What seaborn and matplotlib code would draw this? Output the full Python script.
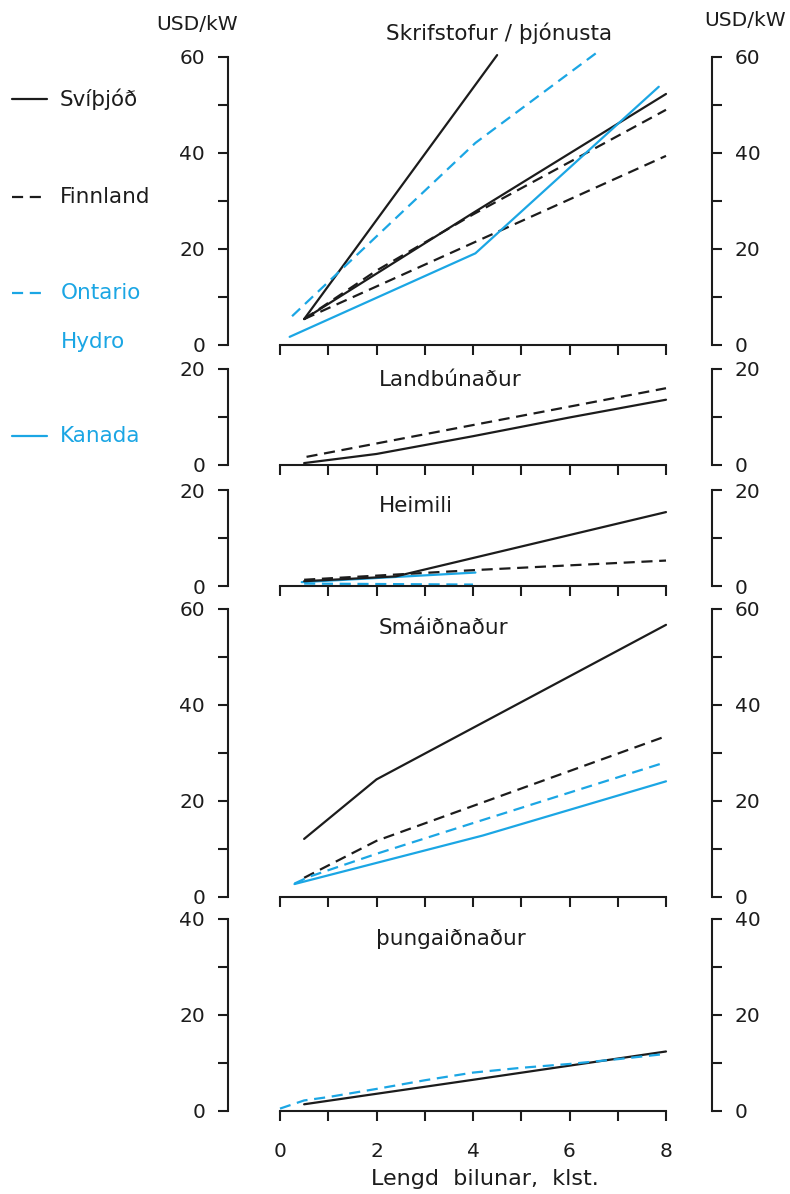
import matplotlib
matplotlib.use("Agg")
import matplotlib.pyplot as plt
import seaborn as sns
from matplotlib.lines import Line2D
from matplotlib.ticker import MultipleLocator

sns.set_style("ticks")
plt.rcParams["font.family"] = ["DejaVu Sans"]

BLACK = "#1c1c1c"
BLUE = "#1ba6e4"

# ---------------- data ----------------
panel_titles = ["Skrifstofur / þjónusta", "Landbúnaður", "Heimili", "Smáiðnaður", "þungaiðnaður"]
panel_ymax = [60, 20, 20, 60, 40]
x_ticks = [0, 2, 4, 6, 8]
legend_labels = ["Svíþjóð", "Finnland", "Ontario\nHydro", "Kanada"]

# Skrifstofur / þjónusta
skr_svi1_x = [0.5, 4.5];          skr_svi1_y = [5.4, 60.4]
skr_svi2_x = [0.5, 4, 8];         skr_svi2_y = [5.4, 27.5, 52.3]
skr_fin1_x = [0.5, 2, 4, 8];      skr_fin1_y = [5.4, 15.5, 27.2, 49.0]
skr_fin2_x = [0.5, 8];            skr_fin2_y = [5.4, 39.4]
skr_ont_x = [0.25, 4.05, 6.55];   skr_ont_y = [6.0, 42.1, 60.8]
skr_kan_x = [0.2, 4.05, 7.85];    skr_kan_y = [1.7, 19.1, 53.8]

# Landbúnaður
lan_svi_x = [0.5, 2, 4, 6, 8];    lan_svi_y = [0.4, 2.3, 6.0, 9.9, 13.6]
lan_fin_x = [0.55, 8];            lan_fin_y = [1.7, 16.0]

# Heimili
hei_svi_x = [0.5, 2.4, 8];        hei_svi_y = [1.0, 2.0, 15.4]
hei_fin_x = [0.5, 4, 8];          hei_fin_y = [1.3, 3.3, 5.3]
hei_kan_x = [0.45, 4.05];         hei_kan_y = [0.8, 2.8]
hei_ont_x = [0.5, 4.0];           hei_ont_y = [0.5, 0.3]

# Smáiðnaður
sma_svi_x = [0.5, 2, 8];          sma_svi_y = [12.1, 24.5, 56.7]
sma_fin_x = [0.5, 2, 8];          sma_fin_y = [4.0, 11.7, 33.5]
sma_ont_x = [0.3, 0.6, 2, 4, 8];  sma_ont_y = [2.8, 4.2, 9.0, 15.4, 28.1]
sma_kan_x = [0.3, 4.2, 8];        sma_kan_y = [2.7, 12.8, 24.1]

# þungaiðnaður
thu_svi_x = [0.5, 4, 8];          thu_svi_y = [1.4, 6.5, 12.4]
thu_ont_x = [0, 0.5, 1, 2, 3, 4, 5, 6, 7, 8]
thu_ont_y = [0.5, 2.2, 2.9, 4.6, 6.4, 8.0, 9.0, 9.8, 10.8, 11.9]

DASH = (0, (5, 3))
STYLE = {
    "svi": dict(color=BLACK, linestyle="-"),
    "fin": dict(color=BLACK, linestyle=DASH),
    "ont": dict(color=BLUE, linestyle=DASH),
    "kan": dict(color=BLUE, linestyle="-"),
}

panel_lines = [
    [("svi", skr_svi1_x, skr_svi1_y), ("svi", skr_svi2_x, skr_svi2_y),
     ("fin", skr_fin1_x, skr_fin1_y), ("fin", skr_fin2_x, skr_fin2_y),
     ("ont", skr_ont_x, skr_ont_y), ("kan", skr_kan_x, skr_kan_y)],
    [("svi", lan_svi_x, lan_svi_y), ("fin", lan_fin_x, lan_fin_y)],
    [("ont", hei_ont_x, hei_ont_y), ("kan", hei_kan_x, hei_kan_y),
     ("svi", hei_svi_x, hei_svi_y), ("fin", hei_fin_x, hei_fin_y)],
    [("svi", sma_svi_x, sma_svi_y), ("fin", sma_fin_x, sma_fin_y),
     ("ont", sma_ont_x, sma_ont_y), ("kan", sma_kan_x, sma_kan_y)],
    [("svi", thu_svi_x, thu_svi_y), ("ont", thu_ont_x, thu_ont_y)],
]

# ---------------- layout (pixels of a 790x1194 figure) ----------------
W, H = 790, 1194
X0, X8 = 280, 666
panel_px = [(57, 345), (369, 465), (490, 586), (609, 897), (919, 1111)]
title_x = [2.2, 2.05, 2.05, 2.05, 2.0]
title_y = [65, 17.7, 16.7, 56, 35.8]

fig = plt.figure(figsize=(W / 100, H / 100), dpi=100)
fig.patch.set_facecolor("white")

LW = 1.5
FS_TICK = 14.5
FS_TEXT = 15.5

axes = []
for i, (top, bot) in enumerate(panel_px):
    ax = fig.add_axes([X0 / W, 1 - bot / H, (X8 - X0) / W, (bot - top) / H])
    ax.set_facecolor("none")
    for kind, xs, ys in panel_lines[i]:
        sns.lineplot(x=xs, y=ys, ax=ax, estimator=None, sort=False,
                     linewidth=1.6, clip_on=False, **STYLE[kind])
    ax.set_xlim(0, 8)
    ax.set_ylim(0, panel_ymax[i])
    ax.spines["top"].set_visible(False)
    for s in ("left", "right", "bottom"):
        ax.spines[s].set_linewidth(LW)
        ax.spines[s].set_color(BLACK)
    ax.spines["left"].set_position(("outward", 37.5))
    ax.spines["right"].set_position(("outward", 33))
    ax.yaxis.set_major_locator(MultipleLocator(20))
    ax.yaxis.set_minor_locator(MultipleLocator(10))
    ax.xaxis.set_major_locator(MultipleLocator(2))
    ax.xaxis.set_minor_locator(MultipleLocator(1))
    ax.tick_params(axis="y", which="both", left=True, right=True,
                   labelleft=True, labelright=True, direction="out",
                   length=7.5, width=LW, color=BLACK, labelsize=FS_TICK,
                   labelcolor=BLACK)
    ax.tick_params(axis="y", which="major", pad=9)
    ax.tick_params(axis="x", which="both", direction="out", length=7.5,
                   width=LW, color=BLACK, labelsize=FS_TICK, labelcolor=BLACK,
                   pad=15, labelbottom=(i == 4))
    ax.set_xlabel("")
    ax.set_ylabel("")
    ax.text(title_x[i], title_y[i], panel_titles[i], ha="left", va="center",
            fontsize=FS_TEXT, color=BLACK, clip_on=False)
    axes.append(ax)

axes[-1].set_xticks(x_ticks)
axes[-1].set_xlabel("Lengd  bilunar,  klst.", fontsize=16, color=BLACK, labelpad=2)
axes[-1].xaxis.set_label_coords(0.53, -0.3)

# units
fig.text(197 / W, 1 - 25 / H, "USD/kW", ha="center", va="center", fontsize=14.5, color=BLACK)
fig.text(745 / W, 1 - 21 / H, "USD/kW", ha="center", va="center", fontsize=14.5, color=BLACK)

# legend (left column)
leg_kinds = ["svi", "fin", "ont", "kan"]
leg_y = [99, 197, 293, 436]
for kind, lab, yy in zip(leg_kinds, legend_labels, leg_y):
    st = STYLE[kind]
    fig.add_artist(Line2D([12 / W, 47 / W], [1 - yy / H, 1 - yy / H],
                          transform=fig.transFigure, color=st["color"],
                          linestyle=st["linestyle"], linewidth=1.6))
    txtcol = st["color"]
    if "\n" in lab:
        first, second = lab.split("\n")
        fig.text(61 / W, 1 - yy / H, first, ha="left", va="center",
                 fontsize=FS_TEXT, color=txtcol)
        fig.text(61 / W, 1 - 342 / H, second, ha="left", va="center",
                 fontsize=FS_TEXT, color=txtcol)
    else:
        fig.text(60 / W, 1 - yy / H, lab, ha="left", va="center",
                 fontsize=FS_TEXT, color=txtcol)

fig.savefig("out.png", dpi=100, facecolor="white")
